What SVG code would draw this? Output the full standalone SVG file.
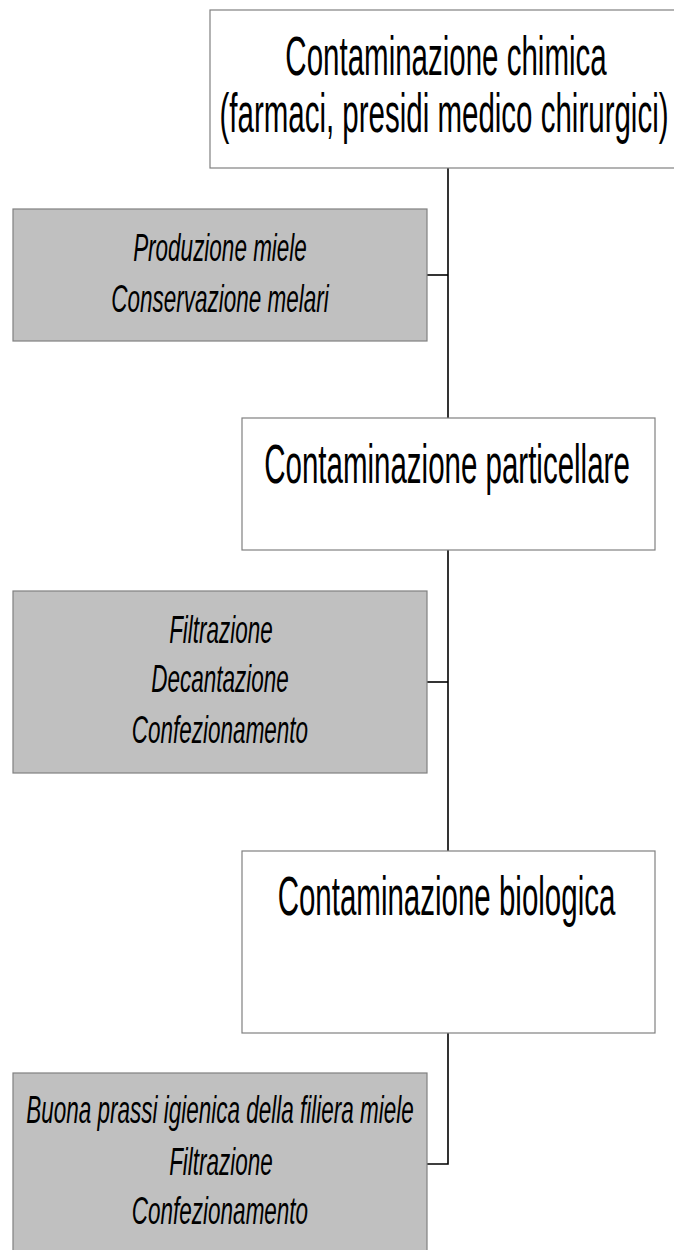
<svg xmlns="http://www.w3.org/2000/svg" width="674" height="1250" viewBox="0 0 674 1250">
<style>
.box{fill:#ffffff;stroke:#808080;stroke-width:1.2}
.gbox{fill:#c0c0c0;stroke:#808080;stroke-width:1.2}
.t{font-family:"Liberation Sans",Arial,sans-serif;font-size:29.5px;fill:#000;text-anchor:middle}
.i{font-family:"Liberation Sans",Arial,sans-serif;font-size:22.5px;font-style:italic;fill:#000;text-anchor:middle}
.c{fill:none;stroke:#000;stroke-width:1.6}
</style>
<rect width="674" height="1250" fill="#ffffff"/>
<g id="connectors">
<line class="c" x1="448" y1="168" x2="448" y2="418"/>
<line class="c" x1="427" y1="275" x2="448" y2="275"/>
<line class="c" x1="448" y1="550" x2="448" y2="851"/>
<line class="c" x1="427" y1="682" x2="448" y2="682"/>
<polyline class="c" points="448,1033 448,1164 427,1164"/>
</g>
<g id="node-chimica">
<rect class="box" x="210" y="10" width="476" height="158"/>
<text class="t" transform="translate(446,75) scale(1,1.88)">Contaminazione chimica</text>
<text class="t" transform="translate(444,132) scale(1,1.88)">(farmaci, presidi medico chirurgici)</text>
</g>
<g id="node-chimica-misure">
<rect class="gbox" x="13" y="209" width="414" height="132"/>
<text class="i" transform="translate(220,261) scale(1,1.7)">Produzione miele</text>
<text class="i" transform="translate(220,312) scale(1,1.7)">Conservazione melari</text>
</g>
<g id="node-particellare">
<rect class="box" x="242" y="418" width="413" height="132"/>
<text class="t" transform="translate(447,483) scale(1,1.88)">Contaminazione particellare</text>
</g>
<g id="node-particellare-misure">
<rect class="gbox" x="13" y="591" width="414" height="182"/>
<text class="i" transform="translate(221,643) scale(1,1.7)">Filtrazione</text>
<text class="i" transform="translate(220,692) scale(1,1.7)">Decantazione</text>
<text class="i" transform="translate(220,743) scale(1,1.7)">Confezionamento</text>
</g>
<g id="node-biologica">
<rect class="box" x="242" y="851" width="413" height="182"/>
<text class="t" transform="translate(446.5,915) scale(1,1.88)">Contaminazione biologica</text>
</g>
<g id="node-biologica-misure">
<rect class="gbox" x="13" y="1073" width="414" height="190"/>
<text class="i" transform="translate(220,1123) scale(1,1.7)">Buona prassi igienica della filiera miele</text>
<text class="i" transform="translate(221,1175) scale(1,1.7)">Filtrazione</text>
<text class="i" transform="translate(220,1224) scale(1,1.7)">Confezionamento</text>
</g>
</svg>
